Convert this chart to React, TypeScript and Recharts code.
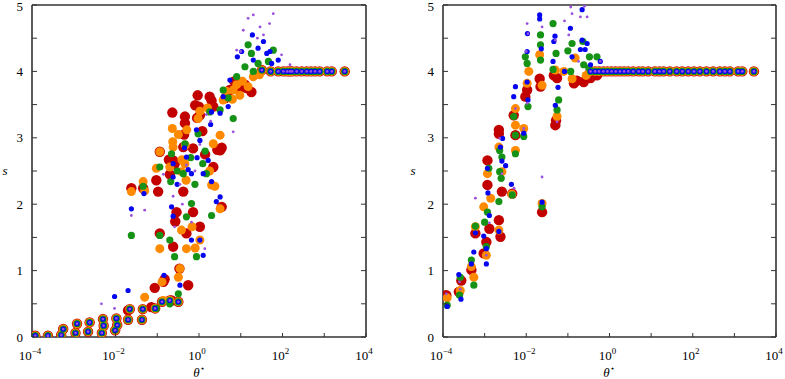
import React from 'react';
import { ScatterChart, Scatter, XAxis, YAxis } from 'recharts';

type Pt = [number, number];

// theta*, s pairs

// points where all five runs sit on top of each other (ringed markers)
const leftShared: Pt[] = [
  [1.2e-4, 0.02], [2.4e-4, 0.02], [5e-4, 0.03], [5.6e-4, 0.12], [1.1e-3, 0.06], [1.2e-3, 0.2],
  [2.2e-3, 0.08], [2.4e-3, 0.22], [4.7e-3, 0.06], [5e-3, 0.27], [5.2e-3, 0.17], [9.8e-3, 0.1],
  [1.05e-2, 0.28], [1.1e-2, 0.18], [2e-2, 0.26], [2.2e-2, 0.42], [4.3e-2, 0.26], [4.5e-2, 0.42],
  [8.9e-2, 0.43], [0.13, 0.53], [0.2, 0.55], [0.32, 0.53],
  [32, 4.02], [52, 4.0], [79, 4.0], [105, 4.0], [129, 4.0], [151, 4.0], [170, 4.0], [219, 4.0],
  [288, 4.0], [380, 4.0], [479, 4.0], [603, 4.0], [776, 4.0], [1175, 4.0], [1514, 4.0], [3090, 4.0],
];

const rightShared: Pt[] = [
  [0.35, 4.0], [0.45, 4.0], [0.56, 4.0], [0.71, 4.0], [0.89, 4.0], [1.12, 4.0], [1.41, 4.0],
  [1.78, 4.0], [2.24, 4.0], [2.82, 4.0], [3.7, 4.0], [5, 4.0], [6.3, 4.0], [8.5, 4.0], [12.3, 4.0],
  [15.8, 4.0], [20, 4.0], [28, 4.0], [41, 4.0], [56, 4.0], [78, 4.0], [107, 4.0], [148, 4.0],
  [214, 4.0], [309, 4.0], [447, 4.0], [589, 4.0], [776, 4.0], [1230, 4.0], [1549, 4.0], [2951, 4.0],
];

const leftRed: Pt[] = [
  [0.23, 3.38], [0.46, 3.32], [0.46, 3.22], [0.93, 3.64], [1.0, 3.47], [1.05, 3.34], [1.8, 3.62],
  [2.0, 3.56], [0.115, 2.79], [0.24, 2.66], [0.26, 2.6], [0.095, 2.36], [0.105, 2.19], [0.42, 2.86],
  [0.42, 2.19], [0.024, 2.24], [0.046, 2.24], [0.29, 1.88], [0.72, 1.88], [0.115, 1.56], [0.5, 1.56],
  [1.05, 1.66], [0.24, 1.36], [0.087, 0.74], [0.14, 0.83], [0.22, 0.55], [0.55, 0.78], [3.2, 2.81],
  [3.5, 2.85], [2.2, 2.56], [0.72, 2.84], [5.5, 3.72], [9.5, 3.74], [18, 3.69], [12.6, 3.8],
  [2.2, 3.47], [3.5, 1.96], [1.4, 2.75], [0.2, 2.45], [1.2, 3.1], [0.02, 0.4], [0.072, 0.45],
  [0.44, 3.05], [0.9, 3.3], [4.3, 3.6], [7, 3.85], [14, 3.75], [0.81, 3.49], [2.75, 2.82],
  [0.19, 2.67], [0.27, 1.74], [0.34, 1.03], [0.15, 0.87],
];

const leftOrange: Pt[] = [
  [0.23, 3.14], [0.235, 2.94], [0.115, 2.79], [0.095, 2.54], [0.2, 2.56], [0.024, 2.19], [0.046, 2.34],
  [0.05, 2.2], [0.46, 2.61], [0.38, 2.49], [0.115, 1.33], [0.38, 1.61], [0.5, 1.33], [1.05, 1.46],
  [0.32, 0.9], [0.35, 1.03], [0.14, 0.55], [0.05, 0.6], [0.95, 3.29], [1.05, 3.4], [2.2, 2.91],
  [1.8, 2.5], [2.0, 2.29], [2.4, 2.27], [3.2, 1.93], [3.8, 3.57], [6.6, 3.72], [9.5, 3.64], [15, 3.77],
  [20, 3.92], [28, 3.95], [0.24, 2.86], [0.32, 3.05], [1.6, 3.45], [6.3, 3.58], [0.13, 0.83],
  [4.5, 3.7], [11, 3.85], [8, 3.8], [0.49, 2.36], [0.51, 3.12], [3.2, 3.04], [0.68, 1.66],
  [0.81, 1.34], [0.39, 2.67], [0.47, 2.89],
];

const leftGreen: Pt[] = [
  [0.024, 1.53], [0.115, 1.53], [0.115, 2.56], [0.22, 2.76], [0.21, 2.34], [0.2, 1.46], [0.26, 1.21],
  [0.32, 0.65], [0.2, 0.5], [0.5, 1.81], [0.66, 2.01], [0.46, 2.91], [0.42, 2.46], [0.95, 3.06],
  [1.23, 2.61], [1.5, 2.46], [1.8, 3.39], [2.0, 1.83], [3.2, 3.42], [6.6, 3.29], [3.8, 3.72], [8, 3.92],
  [15, 4.4], [18, 4.27], [12.6, 4.07], [20, 4.0], [26, 4.12], [46, 4.15], [60, 4.32], [0.87, 1.21],
  [0.095, 0.43], [0.046, 2.27], [5, 3.6], [0.63, 2.7], [0.3, 2.5], [1.4, 2.8], [0.8, 2.3],
];

const leftBlue: Pt[] = [
  [0.024, 1.93], [0.048, 2.16], [0.02, 0.7], [9.5e-3, 0.61], [0.145, 0.93], [0.35, 0.78], [0.24, 2.41],
  [0.24, 2.61], [0.22, 1.96], [0.24, 1.82], [0.5, 2.71], [0.55, 2.52], [0.66, 2.46], [0.87, 3.12],
  [1.05, 2.96], [1.26, 2.46], [1.66, 2.66], [2.0, 2.34], [2.0, 3.39], [3.2, 2.11], [2.6, 2.04],
  [3.2, 3.37], [5, 3.47], [5.5, 3.87], [8.3, 4.22], [10.5, 4.3], [19, 4.55], [26, 4.35], [35, 4.45],
  [20, 4.17], [42, 4.27], [50, 4.3], [55, 4.12], [79, 4.17], [1.05, 1.46], [0.66, 1.46], [1.26, 1.23],
  [0.45, 2.85], [3.8, 3.62], [0.3, 2.3], [0.9, 2.7], [1.9, 3.2],
];

const leftPurple: Pt[] = [
  [0.024, 1.83], [0.05, 1.91], [4.6e-3, 0.5], [9.5e-3, 0.43], [0.26, 1.66], [0.66, 1.73], [1.38, 1.33],
  [6.6, 3.09], [15, 4.8], [20, 4.85], [60, 4.87], [49, 4.72], [35, 4.55], [11.5, 4.62], [8, 4.32],
  [29, 4.67], [95, 4.25], [151, 4.1], [0.5, 2.59], [0.35, 2.3], [0.24, 2.12], [1.05, 2.9], [1.9, 3.25],
  [0.14, 2.45], [10, 4.3], [25, 4.5], [0.8, 2.5], [0.4, 2.0], [1.5, 3.35],
];

const rightRed: Pt[] = [
  [1.2e-4, 0.63], [2.4e-4, 0.68], [2.75e-4, 0.85], [4.8e-4, 1.01], [6e-4, 1.56], [9.5e-4, 1.26],
  [1.1e-3, 1.43], [1.17e-3, 2.66], [1.17e-3, 2.29], [1.3e-3, 1.63], [2.2e-3, 3.12], [2.2e-3, 3.06],
  [2.2e-3, 1.76], [2.6e-3, 2.19], [2.4e-3, 1.51], [4.6e-3, 2.16], [5.5e-3, 3.04], [5e-3, 3.34],
  [9.5e-3, 3.62], [1.05e-2, 3.72], [2.1e-2, 3.89], [2.2e-2, 3.77], [2.4e-2, 1.88], [5e-2, 3.19],
  [5.2e-2, 3.26], [4.6e-2, 3.94], [5.5e-2, 3.9], [0.14, 3.82], [0.165, 3.86], [0.24, 3.84],
  [0.5, 3.94], [0.35, 3.9],
];

const rightOrange: Pt[] = [
  [1.26e-4, 0.59], [2.6e-4, 0.7], [4.8e-4, 1.06], [5.5e-4, 0.9], [6e-4, 1.66], [9.5e-4, 1.96],
  [1.1e-3, 1.23], [1.17e-3, 2.46], [1.4e-3, 2.09], [2.2e-3, 2.86], [2.6e-3, 2.49], [2.2e-3, 1.61],
  [5.5e-3, 3.44], [5.5e-3, 3.19], [5.5e-3, 2.81], [8.7e-3, 3.14], [1.05e-2, 3.82], [1.15e-2, 4.0],
  [2.4e-2, 2.01], [2.4e-2, 3.79], [2.1e-2, 4.25], [5e-2, 4.02], [5.5e-2, 3.32], [0.126, 3.89],
  [0.15, 4.2], [0.275, 3.94], [0.08, 4.0], [4.5e-3, 2.15],
];

const rightGreen: Pt[] = [
  [1.26e-4, 0.48], [2.5e-4, 0.63], [2.6e-4, 0.9], [4.8e-4, 1.16], [5.5e-4, 0.78], [6e-4, 1.67],
  [1e-3, 1.73], [1.1e-3, 1.36], [1.26e-3, 2.54], [1.17e-3, 1.88], [2.2e-3, 2.04], [2.3e-3, 2.49],
  [2.6e-3, 2.71], [2.5e-3, 2.39], [2.3e-3, 2.81], [4.6e-3, 2.14], [5e-3, 3.32], [5.5e-3, 2.76],
  [5.5e-3, 3.04], [8.7e-3, 3.02], [9.5e-3, 4.22], [1.1e-2, 3.47], [1.05e-2, 4.12], [2.2e-2, 4.55],
  [2.2e-2, 4.4], [2.2e-2, 4.17], [2.4e-2, 1.96], [4.4e-2, 4.72], [5.2e-2, 4.27], [5.5e-2, 3.42],
  [6e-2, 3.57], [4.4e-2, 4.03], [0.1, 4.31], [0.126, 4.42], [0.23, 4.45], [0.24, 4.1], [0.33, 4.22],
  [0.5, 4.22], [0.117, 4.0], [0.32, 4.05],
];

const rightBlue: Pt[] = [
  [1.26e-4, 0.46], [2.4e-4, 0.94], [2.7e-4, 0.57], [4.8e-4, 1.1], [5.5e-4, 1.28], [6e-4, 1.57],
  [9.5e-4, 1.52], [1.1e-3, 1.33], [1.1e-3, 1.1], [1.17e-3, 2.54], [1.2e-3, 2.17], [1.3e-3, 1.83],
  [2.2e-3, 1.59], [2.4e-3, 2.86], [2.6e-3, 2.65], [2.7e-3, 2.99], [3.2e-3, 2.58], [4.4e-3, 2.3],
  [5e-3, 3.62], [5.5e-3, 3.77], [8.7e-3, 3.07], [1.05e-2, 4.3], [1.05e-2, 3.84], [1.1e-2, 3.57],
  [1.07e-2, 4.57], [2.1e-2, 4.85], [2.1e-2, 4.79], [2.3e-2, 4.34], [2.4e-2, 2.03], [4.6e-2, 4.45],
  [4.4e-2, 4.15], [4.9e-2, 4.53], [5.8e-2, 3.76], [5e-2, 3.49], [0.115, 4.65], [0.126, 4.22],
  [0.22, 4.93], [0.2, 4.33], [0.22, 4.47], [0.26, 4.33], [0.29, 4.42], [0.35, 4.1], [0.6, 4.15],
  [0.083, 4.0],
];

const rightPurple: Pt[] = [
  [1.2e-4, 0.65], [2.5e-4, 0.83], [2.6e-4, 0.72], [6e-4, 2.09], [1.1e-3, 1.23], [1.3e-3, 1.72],
  [2.3e-3, 2.99], [2.6e-3, 2.46], [5.1e-3, 2.24], [5.5e-3, 3.44], [8.7e-3, 3.14], [1.05e-2, 4.72],
  [1.05e-2, 3.52], [1.1e-2, 4.57], [2.4e-2, 2.41], [2.4e-2, 4.67], [5.5e-2, 3.24], [8.3e-2, 4.76],
  [0.105, 4.55], [0.117, 4.97], [0.126, 4.87], [0.2, 4.82], [0.29, 4.82], [0.25, 4.98], [0.18, 4.15],
  [0.6, 4.15], [0.05, 4.47], [1e-2, 4.3],
];

const decades = [1e-4, 1e-3, 1e-2, 1e-1, 1, 10, 100, 1e3, 1e4];
const sTicks = [0, 0.5, 1, 1.5, 2, 2.5, 3, 3.5, 4, 4.5, 5];

const runs = [
  { name: 'red', color: '#c20000', r: 5.2 },
  { name: 'orange', color: '#ff8a00', r: 4.5 },
  { name: 'green', color: '#169316', r: 3.6 },
  { name: 'blue', color: '#0505f0', r: 2.6 },
  { name: 'purple', color: '#9a50dc', r: 1.4 },
];

const frame = '#333';
const serif = '"Liberation Serif", "DejaVu Serif", serif';

const toRows = (pts: Pt[]) => pts.map(([theta, s]) => ({ theta, s }));

const expOf = (v: number) => Math.round(Math.log10(v));

const BottomTick = ({ x, y, payload }: any) => {
  const e = expOf(payload.value);
  return (
    <g>
      <line x1={x} x2={x} y1={y} y2={y - 4} stroke={frame} strokeWidth={1} />
      {e % 2 === 0 && (
        <text x={x - 2} y={y + 23} textAnchor="middle" fontFamily={serif} fontSize={13} fill="#000">
          <tspan>10</tspan>
          <tspan dy={-6} fontSize={9}>{e < 0 ? `\u2212${-e}` : `${e}`}</tspan>
        </text>
      )}
    </g>
  );
};

const TopTick = ({ x, y }: any) => (
  <line x1={x} x2={x} y1={y} y2={y + 4} stroke={frame} strokeWidth={1} />
);

// top label sits right at the page edge, keep it inside
const LeftTick = ({ x, y, payload }: any) => (
  <g>
    <line x1={x} x2={x + 5} y1={y} y2={y} stroke={frame} strokeWidth={1} />
    {Number.isInteger(payload.value) && (
      <text x={x - 9} y={Math.max(y + 4.5, 10.5)} textAnchor="end" fontFamily={serif} fontSize={13} fill="#000">
        {payload.value}
      </text>
    )}
  </g>
);

const RightTick = ({ x, y }: any) => (
  <line x1={x} x2={x - 5} y1={y} y2={y} stroke={frame} strokeWidth={1} />
);

const dot = (color: string, r: number) => (props: any) => (
  <circle cx={props.cx} cy={props.cy} r={r} fill={color} />
);

interface PanelProps {
  shared: Pt[];
  series: Pt[][];
  left: number;
  width: number;
  marginLeft: number;
  marginRight: number;
}

// axes get 1px of size (zero-size axes are not drawn), margins make up for it
const Panel: React.FC<PanelProps> = ({ shared, series, left, width, marginLeft, marginRight }) => (
  <div style={{ position: 'absolute', left, top: 0 }}>
    <ScatterChart
      width={width}
      height={379}
      margin={{ top: 4, right: marginRight - 1, bottom: 41, left: marginLeft - 1 }}
    >
      <XAxis
        xAxisId="b"
        dataKey="theta"
        type="number"
        scale="log"
        domain={[1e-4, 1e4]}
        allowDataOverflow
        ticks={decades}
        interval={0}
        height={1}
        tickSize={0}
        tickMargin={0}
        tickLine={false}
        axisLine={{ stroke: frame, strokeWidth: 1.6 }}
        tick={<BottomTick />}
      />
      <XAxis
        xAxisId="t"
        orientation="top"
        type="number"
        scale="log"
        domain={[1e-4, 1e4]}
        allowDataOverflow
        ticks={decades}
        interval={0}
        height={1}
        tickSize={0}
        tickMargin={0}
        tickLine={false}
        axisLine={{ stroke: frame, strokeWidth: 1.6 }}
        tick={<TopTick />}
      />
      <YAxis
        yAxisId="l"
        dataKey="s"
        type="number"
        domain={[0, 5]}
        allowDataOverflow
        ticks={sTicks}
        interval={0}
        width={1}
        tickSize={0}
        tickMargin={0}
        tickLine={false}
        axisLine={{ stroke: frame, strokeWidth: 1.6 }}
        tick={<LeftTick />}
      />
      <YAxis
        yAxisId="r"
        orientation="right"
        type="number"
        domain={[0, 5]}
        allowDataOverflow
        ticks={sTicks}
        interval={0}
        width={1}
        tickSize={0}
        tickMargin={0}
        tickLine={false}
        axisLine={{ stroke: frame, strokeWidth: 1.6 }}
        tick={<RightTick />}
      />
      {runs.map((run, i) => (
        <Scatter
          key={run.name}
          xAxisId="b"
          yAxisId="l"
          data={toRows([...shared, ...series[i]])}
          shape={dot(run.color, run.r)}
          isAnimationActive={false}
        />
      ))}
    </ScatterChart>
  </div>
);

export default function App() {
  return (
    <div style={{ position: 'absolute', left: 0, top: 0, width: 785, height: 379, background: '#fff' }}>
      <Panel
        shared={leftShared}
        series={[leftRed, leftOrange, leftGreen, leftBlue, leftPurple]}
        left={0}
        width={400}
        marginLeft={32}
        marginRight={34}
      />
      <Panel
        shared={rightShared}
        series={[rightRed, rightOrange, rightGreen, rightBlue, rightPurple]}
        left={400}
        width={385}
        marginLeft={43}
        marginRight={9}
      />
      <svg
        width={785}
        height={379}
        style={{ position: 'absolute', left: 0, top: 0, pointerEvents: 'none' }}
      >
        <text x={5} y={175} textAnchor="middle" fontFamily={serif} fontStyle="italic" fontSize={13}>s</text>
        <text x={413} y={175} textAnchor="middle" fontFamily={serif} fontStyle="italic" fontSize={13}>s</text>
        <text x={199} y={377} textAnchor="middle" fontFamily={serif} fontStyle="italic" fontSize={13}>
          θ<tspan dy={-6} fontSize={8} fontStyle="normal">⋆</tspan>
        </text>
        <text x={609} y={377} textAnchor="middle" fontFamily={serif} fontStyle="italic" fontSize={13}>
          θ<tspan dy={-6} fontSize={8} fontStyle="normal">⋆</tspan>
        </text>
      </svg>
    </div>
  );
}
